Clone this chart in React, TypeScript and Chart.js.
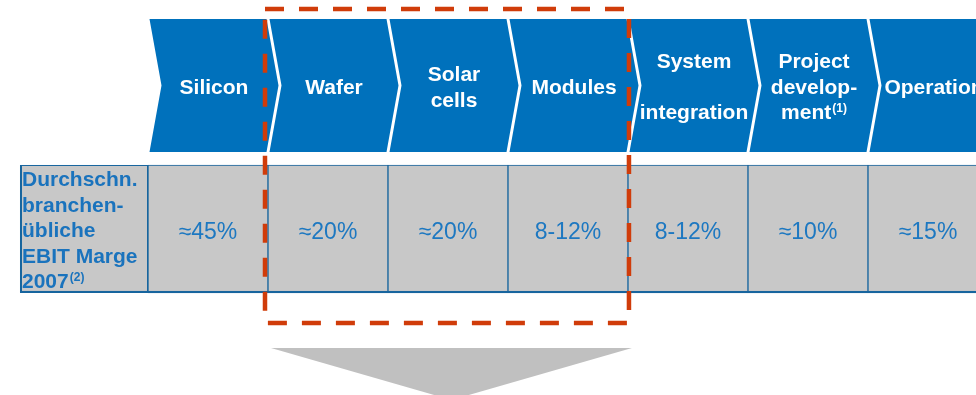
import React, { useEffect, useRef } from "react";
import { Chart, registerables } from "chart.js";

Chart.register(...registerables);

// ---------- data ----------
const stages = ["Silicon", "Wafer", "Solar cells", "Modules", "System integration", "Project development", "Operation"];
// how each stage name is broken into lines inside its chevron ("^" marks a superscript)
const stageLines = [
  ["Silicon"],
  ["Wafer"],
  ["Solar", "cells"],
  ["Modules"],
  ["System", "", "integration"],
  ["Project", "develop-", "ment^(1)"],
  ["Operation"],
];
const margins = ["≈45%", "≈20%", "≈20%", "8-12%", "8-12%", "≈10%", "≈15%"];
const rowLabelLines = ["Durchschn.", "branchen-", "übliche", "EBIT Marge", "2007^(2)"];
const highlightFrom = 1; // Wafer
const highlightTo = 3; // Modules

// ---------- layout (scale units: one stage = 1 on x, table row = 1 on y) ----------
const X_MIN = -1.2333;
const X_MAX = 6.9;
const Y_MIN = -0.797;
const Y_MAX = 2.289;
const ROW: [number, number] = [0, 1];
const BAND: [number, number] = [1.1016, 2.1406];
const LABEL_COL_LEFT = -1.0667;
const BOX = { x0: highlightFrom - 0.025, x1: highlightTo + 1.008, y0: -0.234, y1: 2.219 };
const ARROW = { x0: highlightFrom + 0.025, x1: highlightTo + 1.033, yTop: -0.43, yTip: -0.836 };

const GAP = 3;
const TIP = 12;
const LINE_H = 25.5;
const TEXT_DY = 2.5;
const FONT = '"Liberation Sans", Arial, sans-serif';
const COLORS = {
  chevron: "#0071bc",
  cell: "#c8c8c8",
  cellBorder: "#17659e",
  labelText: "#1a73bd",
  valueText: "#1d78c1",
  box: "#d03c0a",
  arrow: "#c0c0c0",
};

function drawLine(ctx: CanvasRenderingContext2D, line: string, cx: number, cy: number, size: number, align: "center" | "left") {
  const [main, sup] = line.split("^");
  ctx.font = `bold ${size}px ${FONT}`;
  const wMain = ctx.measureText(main).width;
  let wSup = 0;
  if (sup) {
    ctx.font = `bold ${Math.round(size * 0.58)}px ${FONT}`;
    wSup = ctx.measureText(sup).width + 1;
  }
  const start = align === "center" ? cx - (wMain + wSup) / 2 : cx;
  ctx.textAlign = "left";
  ctx.textBaseline = "middle";
  ctx.font = `bold ${size}px ${FONT}`;
  ctx.fillText(main, start, cy);
  if (sup) {
    ctx.font = `bold ${Math.round(size * 0.58)}px ${FONT}`;
    ctx.fillText(sup, start + wMain + 1, cy - 5);
  }
}

const diagramPlugin = {
  id: "diagram",
  beforeDatasetsDraw(chart: any) {
    const ctx: CanvasRenderingContext2D = chart.ctx;
    const meta = chart.getDatasetMeta(0);
    ctx.save();
    ctx.fillStyle = COLORS.chevron;
    meta.data.forEach((el: any) => {
      const p = el.getProps(["x", "y", "base", "width"], true);
      const L = p.x - p.width / 2 + GAP / 2;
      const R = p.x + p.width / 2 - GAP / 2;
      const top = Math.min(p.y, p.base);
      const bot = Math.max(p.y, p.base);
      const mid = (top + bot) / 2;
      ctx.beginPath();
      ctx.moveTo(L, top);
      ctx.lineTo(R, top);
      ctx.lineTo(R + TIP, mid);
      ctx.lineTo(R, bot);
      ctx.lineTo(L, bot);
      ctx.lineTo(L + TIP, mid);
      ctx.closePath();
      ctx.fill();
    });
    ctx.restore();
  },
  afterDatasetsDraw(chart: any) {
    const ctx: CanvasRenderingContext2D = chart.ctx;
    const { x, y } = chart.scales;
    ctx.save();

    // chevron labels
    const meta0 = chart.getDatasetMeta(0);
    ctx.fillStyle = "#ffffff";
    meta0.data.forEach((el: any, i: number) => {
      const p = el.getProps(["x", "y", "base"], true);
      const mid = (p.y + p.base) / 2 + TEXT_DY;
      const lines = stageLines[i];
      lines.forEach((ln, k) => {
        if (!ln) return;
        const cy = mid + (k - (lines.length - 1) / 2) * LINE_H;
        drawLine(ctx, ln, p.x + TIP / 2, cy, 21, "center");
      });
    });

    // row label column
    const lx0 = x.getPixelForValue(LABEL_COL_LEFT);
    const lx1 = x.getPixelForValue(0);
    const ty0 = y.getPixelForValue(ROW[1]);
    const ty1 = y.getPixelForValue(ROW[0]);
    ctx.fillStyle = COLORS.cellBorder;
    ctx.fillRect(lx0, ty0, lx1 - lx0, ty1 - ty0);
    ctx.fillStyle = COLORS.cell;
    ctx.fillRect(lx0 + 2, ty0 + 1, lx1 - lx0 - 3, ty1 - ty0 - 3);
    ctx.fillStyle = COLORS.labelText;
    const tmid = (ty0 + ty1) / 2 + TEXT_DY;
    rowLabelLines.forEach((ln, k) => {
      const cy = tmid + (k - (rowLabelLines.length - 1) / 2) * LINE_H;
      drawLine(ctx, ln, lx0 + 2, cy, 21, "left");
    });

    // bottom outline of table
    const tx1 = x.getPixelForValue(X_MAX);
    ctx.fillStyle = COLORS.cellBorder;
    ctx.fillRect(lx0, ty1 - 2, tx1 - lx0, 2);

    // values
    const meta1 = chart.getDatasetMeta(1);
    ctx.fillStyle = COLORS.valueText;
    ctx.font = `23px ${FONT}`;
    ctx.textAlign = "center";
    ctx.textBaseline = "middle";
    meta1.data.forEach((el: any, i: number) => {
      const p = el.getProps(["x", "y", "base"], true);
      ctx.fillText(margins[i], p.x, (p.y + p.base) / 2 + TEXT_DY + 1);
    });
    ctx.restore();
  },
  afterDraw(chart: any) {
    const ctx: CanvasRenderingContext2D = chart.ctx;
    const { x, y } = chart.scales;
    ctx.save();
    // grey arrow
    const ax0 = x.getPixelForValue(ARROW.x0);
    const ax1 = x.getPixelForValue(ARROW.x1);
    const ayT = y.getPixelForValue(ARROW.yTop);
    const ayB = y.getPixelForValue(ARROW.yTip);
    ctx.fillStyle = COLORS.arrow;
    ctx.beginPath();
    ctx.moveTo(ax0, ayT);
    ctx.lineTo(ax1, ayT);
    ctx.lineTo((ax0 + ax1) / 2, ayB);
    ctx.closePath();
    ctx.fill();

    // red dashed highlight box
    const bx0 = x.getPixelForValue(BOX.x0);
    const bx1 = x.getPixelForValue(BOX.x1);
    const by0 = y.getPixelForValue(BOX.y1);
    const by1 = y.getPixelForValue(BOX.y0);
    ctx.strokeStyle = COLORS.box;
    ctx.lineWidth = 4.5;
    ctx.setLineDash([19, 15]);
    ctx.strokeRect(bx0, by0, bx1 - bx0, by1 - by0);
    ctx.restore();
  },
};

export default function App() {
  const ref = useRef<HTMLCanvasElement | null>(null);
  useEffect(() => {
    document.body.style.margin = "0";
    const canvas = ref.current;
    if (!canvas) return;
    const chart = new Chart(canvas, {
      type: "bar",
      data: {
        datasets: [
          {
            label: "Wertschöpfungsstufe",
            data: stages.map((s, i) => ({ x: i + 0.5, y: BAND })) as any,
            barThickness: "flex",
            barPercentage: 1,
            categoryPercentage: 1,
            backgroundColor: "rgba(0,0,0,0)",
            borderWidth: 0,
          } as any,
          {
            label: "EBIT Marge 2007",
            data: margins.map((m, i) => ({ x: i + 0.5, y: ROW })) as any,
            barThickness: "flex",
            barPercentage: 1,
            categoryPercentage: 1,
            backgroundColor: COLORS.cell,
            borderColor: COLORS.cellBorder,
            borderWidth: 1,
            borderSkipped: false,
          } as any,
        ],
      },
      options: {
        animation: false,
        responsive: false,
        events: [],
        layout: { padding: 0 },
        plugins: { legend: { display: false }, tooltip: { enabled: false }, title: { display: false } },
        scales: {
          x: { type: "linear", min: X_MIN, max: X_MAX, display: false, offset: false, stacked: true, bounds: "data" },
          y: { type: "linear", min: Y_MIN, max: Y_MAX, display: false, stacked: false, bounds: "data" },
        },
      },
      plugins: [diagramPlugin],
    });
    return () => chart.destroy();
  }, []);
  return (
    <div style={{ position: "fixed", left: 0, top: 0, width: 976, height: 395, background: "#ffffff" }}>
      <canvas ref={ref} width={976} height={395} style={{ display: "block" }} />
    </div>
  );
}
